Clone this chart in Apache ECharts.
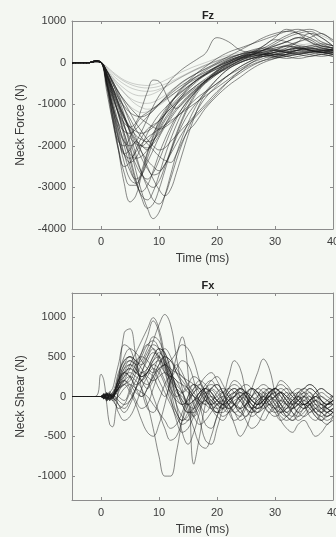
<!DOCTYPE html>
<html><head><meta charset="utf-8">
<script src="https://cdn.jsdelivr.net/npm/echarts@6/dist/echarts.min.js"></script>
<style>html,body{margin:0;padding:0;background:#f4f7f2}#c{width:336px;height:537px}</style>
</head><body><div id="c"></div>
<script>
// ---------- Fz panel (Neck Force, N) ----------
const fzTime = [-5,-2,-1,0,1,2,3,4,5,6,7,8,9,10,11,12,13,14,15,16,17,18,20,22,24,26,28,30,32,34,36,38,40];
const fzA1 = [0,0,40,20,-500,-1300,-2100,-2900,-3350,-3200,-2700,-2200,-1800,-1500,-1250,-1050,-900,-750,-600,-480,-380,-280,-100,50,150,200,250,300,250,300,350,300,250];
const fzA2 = [0,0,40,10,-600,-1400,-2100,-2500,-2400,-2100,-1800,-1600,-1500,-1400,-1250,-1100,-950,-800,-650,-520,-400,-300,-120,20,120,180,220,200,180,220,260,280,300];
const fzA3 = [0,0,30,0,-450,-1100,-1700,-2200,-2400,-2300,-2000,-1700,-1450,-1250,-1100,-950,-820,-700,-580,-470,-370,-280,-100,50,150,200,150,120,150,200,250,300,320];
const fzA4 = [0,0,30,10,-400,-1000,-1600,-2200,-2600,-2800,-2700,-2400,-2100,-1800,-1550,-1350,-1150,-980,-830,-700,-580,-460,-250,-80,50,150,200,250,300,350,300,250,200];
const fzA5 = [0,0,30,0,-350,-900,-1450,-2000,-2500,-2900,-3100,-2950,-2600,-2200,-1850,-1550,-1300,-1100,-920,-760,-620,-500,-280,-100,50,130,200,150,200,300,400,350,300];
const fzA6 = [0,0,40,20,-500,-1200,-1800,-2200,-2100,-1900,-2000,-2100,-1900,-1600,-1350,-1150,-1000,-870,-750,-640,-540,-440,-250,-100,20,100,150,180,200,250,200,150,200];
const fzA7 = [0,0,40,10,-700,-1400,-1900,-2000,-1800,-1500,-1300,-1200,-1100,-1000,-900,-800,-700,-600,-500,-420,-350,-280,-150,-20,80,150,200,250,350,500,700,600,400];
const fzB1 = [0,0,30,0,-250,-600,-1000,-1500,-2000,-2600,-3100,-3500,-3750,-3600,-3200,-2700,-2200,-1800,-1450,-1150,-900,-700,-400,-150,0,100,150,200,150,100,150,200,150];
const fzB2 = [0,0,30,0,-300,-750,-1200,-1700,-2250,-2800,-3250,-3500,-3400,-3050,-2600,-2150,-1750,-1400,-1100,-850,-650,-480,-220,-30,100,180,300,450,600,700,750,600,400];
const fzB3 = [0,0,20,0,-200,-500,-850,-1250,-1700,-2200,-2650,-3000,-3300,-3400,-3200,-2800,-2350,-1950,-1600,-1300,-1050,-850,-550,-300,-100,50,150,200,250,200,150,200,250];
const fzB4 = [0,0,30,0,-300,-700,-1100,-1500,-1900,-2300,-2650,-2900,-3000,-2850,-2500,-2100,-1700,-1350,-1050,-800,-600,-440,-180,20,150,250,350,500,650,750,800,700,550];
const fzB5 = [0,0,30,10,-350,-800,-1250,-1700,-2100,-2450,-2700,-2800,-2650,-2350,-2000,-1650,-1350,-1100,-900,-740,-600,-480,-280,-100,50,180,300,400,500,600,500,400,350];
const fzB6 = [0,0,20,0,-200,-450,-750,-1100,-1450,-1800,-2150,-2500,-2800,-3050,-3200,-3050,-2650,-2200,-1750,-1350,-1000,-750,-400,-150,0,100,200,300,400,500,600,700,500];
const fzB7 = [0,0,30,0,-300,-650,-1000,-1350,-1650,-1900,-2150,-2350,-2500,-2600,-2450,-2150,-1800,-1500,-1250,-1050,-880,-730,-500,-300,-150,0,100,200,300,400,350,300,250];
const fzB8 = [0,0,20,0,-200,-500,-800,-1100,-1350,-1600,-1800,-1950,-2100,-2250,-2350,-2400,-2200,-1900,-1650,-1500,-1300,-1100,-800,-550,-350,-150,0,100,200,300,250,200,150];
const fzC1 = [0,0,30,10,-300,-700,-1050,-1350,-1550,-1650,-1700,-1650,-1550,-1400,-1250,-1100,-950,-820,-700,-600,-500,-420,-270,-130,0,100,180,250,300,350,300,250,200];
const fzC2 = [0,0,30,0,-250,-600,-950,-1300,-1600,-1850,-2000,-2050,-1950,-1750,-1500,-1250,-1000,-800,-620,-480,-360,-260,-80,80,200,300,350,300,250,300,350,400,350];
const fzC3 = [0,0,30,10,-400,-850,-1200,-1450,-1550,-1450,-1100,-700,-420,-450,-700,-1000,-1100,-1000,-850,-700,-560,-440,-220,-50,80,200,400,600,800,700,500,350,300];
const fzC4 = [0,0,40,10,-450,-1000,-1500,-1900,-2200,-2300,-2250,-2100,-1900,-1650,-1400,-1200,-1000,-850,-720,-600,-490,-390,-200,-30,100,200,250,200,250,300,350,300,300];
const fzC5 = [0,0,30,0,-300,-650,-1000,-1300,-1550,-1750,-1850,-1900,-1850,-1700,-1500,-1300,-1100,-950,-800,-680,-560,-450,-250,-60,100,250,400,550,500,400,300,250,350];
const fzC6 = [0,0,20,0,-200,-450,-700,-950,-1200,-1450,-1650,-1850,-2000,-2100,-2050,-1900,-1750,-1600,-1450,-1300,-1150,-1000,-700,-450,-250,-80,50,150,250,350,400,450,400];
const fzC7 = [0,0,30,10,-300,-600,-850,-1050,-1200,-1280,-1300,-1250,-1150,-1000,-850,-700,-580,-470,-380,-300,-220,-150,0,150,300,450,600,700,750,700,600,450,350];
const fzE1 = [0,0,40,10,-500,-1100,-1600,-1900,-2000,-1900,-1650,-1350,-1050,-800,-600,-420,-280,-160,-60,30,120,220,600,500,300,250,300,400,500,600,550,400,350];
const fzF1 = [0,0,40,10,-450,-1100,-1800,-2400,-2800,-2900,-2700,-2300,-1900,-1550,-1250,-1000,-800,-640,-500,-380,-280,-190,-30,100,200,250,300,350,400,350,300,250,200];
const fzF2 = [0,0,30,0,-300,-750,-1250,-1800,-2350,-2850,-3200,-3300,-3100,-2700,-2250,-1850,-1500,-1200,-950,-750,-580,-440,-200,0,150,250,200,150,200,250,300,350,300];
const fzF3 = [0,0,40,10,-550,-1250,-1850,-2200,-2300,-2150,-1950,-1800,-1700,-1600,-1500,-1400,-1300,-1200,-1100,-1000,-900,-800,-600,-400,-200,-50,50,100,150,200,250,250,250];
const fzF4 = [0,0,40,10,-500,-1050,-1450,-1650,-1700,-1600,-1450,-1300,-1150,-1000,-870,-750,-640,-540,-450,-370,-300,-230,-100,20,120,200,250,300,250,200,250,300,300];
const fzF5 = [0,0,30,0,-250,-600,-950,-1300,-1650,-2000,-2300,-2550,-2700,-2650,-2450,-2200,-1950,-1700,-1500,-1350,-1200,-1050,-750,-450,-200,0,150,250,300,350,300,250,200];
const fzF8 = [0,0,30,0,-350,-800,-1200,-1550,-1800,-1950,-2000,-1900,-1700,-1450,-1200,-980,-780,-600,-450,-320,-200,-100,100,250,350,450,550,650,750,800,700,500,400];
const fzF9 = [0,0,40,20,-550,-1300,-2050,-2650,-2950,-2950,-2600,-2150,-1750,-1400,-1150,-950,-800,-680,-570,-470,-380,-300,-150,-20,100,150,200,150,100,150,200,250,250];
const fzF10 = [0,0,30,0,-200,-450,-700,-900,-1080,-1230,-1360,-1460,-1550,-1600,-1550,-1450,-1320,-1180,-1050,-920,-800,-700,-500,-300,-100,50,200,300,400,350,300,250,300];
const fzD1 = [0,0,30,10,-150,-300,-420,-520,-600,-650,-680,-690,-680,-640,-580,-500,-420,-340,-260,-190,-120,-60,40,130,200,250,300,350,400,450,350,300,250];
const fzD2 = [0,0,30,10,-200,-400,-580,-730,-850,-930,-970,-980,-950,-880,-790,-680,-570,-460,-370,-290,-220,-150,-20,100,200,280,350,420,500,600,700,650,500];
const fzD3 = [0,0,30,0,-100,-220,-330,-420,-480,-520,-540,-550,-530,-490,-430,-360,-290,-220,-160,-100,-50,0,100,180,240,280,300,320,300,280,260,250,250];
const fzD4 = [0,0,30,0,-180,-370,-550,-720,-880,-1000,-1080,-1120,-1100,-1030,-930,-820,-700,-590,-480,-390,-310,-240,-100,20,130,220,300,250,200,250,300,350,300];
const fzD5 = [0,0,30,10,-250,-500,-720,-900,-1050,-1150,-1200,-1180,-1100,-980,-850,-720,-600,-490,-390,-300,-230,-160,-40,60,150,220,280,350,420,500,550,500,400];
const fzD6 = [0,0,30,10,-180,-350,-500,-620,-720,-780,-800,-790,-750,-680,-600,-510,-420,-340,-270,-200,-140,-80,30,120,180,230,260,300,350,400,450,400,350];
const fzD7 = [0,0,30,0,-120,-250,-360,-450,-520,-570,-600,-610,-600,-570,-520,-460,-390,-320,-250,-180,-120,-60,50,140,200,250,280,300,320,300,280,300,280];
const fzDark = [fzA1,fzA2,fzA3,fzA4,fzA5,fzA6,fzA7,fzB1,fzB2,fzB3,fzB4,fzB5,fzB6,fzB7,fzB8,fzC1,fzC2,fzC3,fzC4,fzC5,fzC6,fzC7,fzE1,fzF1,fzF2,fzF3,fzF4,fzF5,fzF8,fzF9,fzF10];
const fzLight = [fzD1,fzD2,fzD3,fzD4,fzD5,fzD6,fzD7];

// ---------- Fx panel (Neck Shear, N) ----------
const fxTime = [-5,-1,0,0.5,1,1.5,2,2.5,3,4,5,6,7,8,9,10,11,12,13,14,15,16,17,18,19,20,21,22,23,24,25,26,27,28,29,30,31,32,33,34,35,36,37,38,39,40];
const fx1 = [0,0,280,200,-100,-350,-380,-200,100,800,850,500,100,-150,-200,-50,150,250,200,50,-100,-150,-50,50,80,0,-100,-150,-100,0,50,0,-80,-150,-100,0,50,0,-100,-200,-150,-50,0,-100,-200,-150];
const fx2 = [0,0,0,20,-30,20,0,50,100,250,400,550,700,850,990,850,500,100,-200,-300,-200,-50,50,100,50,-50,-100,-50,0,50,0,-100,-150,-100,0,100,50,-50,-150,-100,0,50,-50,-150,-200,-150];
const fx3 = [0,0,0,-30,50,-20,30,0,-50,-100,-50,100,300,500,700,900,1030,900,500,100,-150,-250,-150,0,100,150,50,-100,-200,-150,0,100,50,-100,-200,-150,-50,50,0,-100,-150,-100,0,-50,-100,-50];
const fx4 = [0,0,0,30,-50,30,0,50,100,200,250,200,100,-100,-400,-750,-1000,-1000,-700,-300,0,150,100,-50,-100,-50,50,100,50,-50,-150,-200,-100,0,50,0,-100,-200,-250,-150,-50,0,-100,-200,-250,-200];
const fx5 = [0,0,0,-20,40,-20,0,100,200,300,250,150,200,300,250,100,0,200,500,750,300,-850,-500,-100,100,150,50,-50,-100,-50,0,-50,-100,-50,50,100,50,-50,-100,-50,0,-100,-200,-150,-100,-50];
const fx6 = [0,0,0,10,-20,10,0,50,100,300,400,350,200,100,200,350,400,300,100,-100,-200,-150,0,150,200,100,50,250,450,350,50,-150,-100,50,100,50,-100,-200,-100,50,100,50,-50,-100,-50,0];
const fx7 = [0,0,0,-10,30,0,50,100,150,200,150,50,0,100,300,500,600,500,300,200,100,0,-100,-200,-100,50,100,50,-100,-200,-100,100,300,470,350,50,-200,-250,-150,0,100,150,100,-50,-150,-200];
const fx8 = [0,0,0,20,-40,10,0,-50,-100,-150,-50,100,200,300,400,450,400,250,100,-50,-200,-400,-600,-650,-500,-250,-100,-150,-350,-500,-400,-200,0,100,50,-100,-200,-150,-50,0,-100,-250,-300,-200,-100,-50];
const fx9 = [0,0,0,0,50,-30,20,100,200,350,450,400,300,350,500,600,550,350,100,-100,-200,-200,-100,-50,-150,-250,-300,-200,-100,-150,-300,-400,-350,-200,-100,-150,-300,-400,-450,-350,-300,-400,-500,-450,-350,-300];
const fx10 = [0,0,0,30,0,-50,0,100,250,450,500,400,450,600,750,700,500,300,200,150,100,0,-100,-50,0,-50,-100,-150,-100,0,50,0,-50,-100,-50,0,50,0,-50,-100,-150,-100,-50,-100,-150,-100];
const fx11 = [0,0,0,-20,30,-50,-20,-100,-150,-100,50,200,300,200,0,-200,-400,-550,-500,-300,-100,50,100,50,-50,-100,-50,50,100,50,-50,-150,-200,-150,-50,0,50,0,-100,-200,-250,-200,-150,-200,-250,-200];
const fx12 = [0,0,0,10,-10,30,0,50,150,350,400,300,250,350,500,600,550,300,-100,-450,-600,-450,-200,0,100,50,-50,-100,-50,0,50,100,50,-50,-100,-50,50,100,50,-50,-100,-50,0,50,0,-50];
const fx13 = [0,0,0,30,-50,50,100,250,400,650,600,400,250,300,450,500,400,200,0,-100,-50,100,200,150,50,-50,-100,-50,0,50,0,-100,-150,-100,0,50,100,50,-50,-100,-100,-50,0,-50,-100,-50];
const fx14 = [0,0,0,-10,-30,30,-50,-100,-200,-300,-250,-100,100,250,350,300,150,-50,-200,-300,-250,-100,50,100,0,-100,-150,-100,0,100,50,-50,-100,-50,0,100,150,100,0,-50,-100,-50,50,100,50,0];
const fx15 = [0,0,0,20,0,-20,20,50,150,300,250,100,0,100,250,350,400,450,550,650,600,450,200,0,-150,-200,-100,0,50,0,-100,-150,-100,0,100,50,-50,-100,-50,50,100,150,100,0,-50,-100];
const fx16 = [0,0,0,-20,20,-10,0,50,100,150,50,-100,-300,-450,-500,-350,-100,200,400,300,100,-100,-300,-550,-600,-400,-150,50,100,0,-150,-250,-200,-100,0,-50,-150,-250,-300,-250,-150,-100,-200,-300,-350,-250];
const fx17 = [0,0,0,0,20,0,30,100,200,300,350,300,400,550,650,600,450,350,300,250,150,50,-50,-100,-50,0,50,0,-100,-150,-100,0,100,150,100,0,-100,-150,-100,0,50,100,50,-50,-100,-100];
const fx18 = [0,0,0,-30,40,0,-20,50,150,250,300,250,200,300,450,550,450,250,50,0,-100,-50,0,100,200,250,150,0,-100,-200,-250,-150,-50,0,-100,-200,-300,-250,-150,-50,0,-50,-150,-200,-150,-100];
const fx19 = [0,0,0,10,-20,10,0,80,200,400,500,450,350,250,200,250,300,250,150,50,-100,-250,-350,-300,-200,-100,-50,-100,-200,-300,-250,-150,-50,0,-50,-150,-250,-300,-250,-150,-100,-150,-250,-300,-250,-200];
const fx20 = [0,0,0,-10,10,20,50,150,300,450,500,450,400,500,600,500,350,200,100,50,100,150,100,0,-100,-150,-100,0,50,100,50,-50,-100,-50,50,100,200,150,50,-50,-100,-50,50,100,50,0];
const fx21 = [0,0,0,20,-60,40,-20,100,250,500,600,550,450,350,300,400,500,450,300,150,50,0,-50,-100,-150,-100,0,100,150,100,0,-100,-150,-100,0,50,0,-100,-200,-250,-200,-100,-50,-100,-150,-200];
const fx22 = [0,0,0,-20,10,60,0,-50,50,200,350,450,500,450,350,200,50,-100,-250,-350,-300,-150,0,100,150,100,-50,-200,-300,-250,-100,0,50,0,-100,-150,-100,0,50,0,-100,-200,-150,-100,-150,-200];
const fx23 = [0,0,0,40,-20,-40,30,50,0,-50,100,300,550,750,950,800,400,0,-300,-450,-400,-250,-100,0,-50,-150,-250,-200,-100,0,-50,-150,-250,-300,-200,-100,-50,-100,-200,-300,-250,-150,-100,-150,-200,-250];
const fx24 = [0,0,0,-10,30,-30,10,60,100,150,250,400,550,650,600,450,300,250,350,450,400,200,-100,-350,-400,-250,-50,100,200,150,0,-150,-200,-100,50,100,50,-50,-100,-50,50,0,-100,-150,-100,-50];
const fx25 = [0,0,0,10,-10,-20,-50,-30,0,100,150,100,50,0,-100,-200,-300,-400,-350,-200,0,100,150,50,-100,-200,-150,-50,0,-50,-150,-200,-150,-50,0,-50,-150,-250,-300,-200,-100,-150,-250,-300,-200,-150];
const fx26 = [0,0,0,0,-20,20,-30,50,150,300,350,300,250,300,400,350,200,50,-50,-100,-50,50,150,250,300,200,50,-100,-200,-250,-150,0,100,50,-50,-150,-200,-150,-50,0,-50,-100,-50,0,-50,-100];
const fx27 = [0,0,0,30,-30,0,20,-20,-100,-200,-100,100,300,450,550,500,300,100,0,50,150,250,200,50,-100,-200,-200,-100,0,100,150,100,0,-100,-200,-250,-200,-100,0,50,0,-100,-200,-250,-200,-150];
const fx28 = [0,0,0,-20,40,-40,0,30,80,150,200,350,500,650,700,600,400,150,-100,-250,-300,-200,-50,50,0,-100,-150,-50,50,100,50,-50,-100,-50,50,100,0,-100,-150,-100,0,100,50,-50,-100,-50];
const fx29 = [0,0,0,10,20,-30,-10,30,100,200,100,-50,-150,-100,100,300,400,300,100,-50,-100,-50,50,100,50,-50,-150,-200,-150,-50,50,100,50,-50,-150,-200,-150,-50,50,100,50,-50,-150,-200,-100,0];
const fx30 = [0,0,0,-30,20,40,-20,60,200,400,450,350,200,150,250,400,500,450,350,250,200,150,50,-50,-100,-50,0,-50,-100,-150,-100,-50,0,50,0,-100,-150,-200,-150,-100,-50,-100,-200,-250,-300,-250];
const fxCurves = [fx1,fx2,fx3,fx4,fx5,fx6,fx7,fx8,fx9,fx10,fx11,fx12,fx13,fx14,fx15,fx16,fx17,fx18,fx19,fx20,fx21,fx22,fx23,fx24,fx25,fx26,fx27,fx28,fx29,fx30];

// ---------- axes ticks ----------
const timeTicks = [0,10,20,30,40];
const fzTicks = [-4000,-3000,-2000,-1000,0,1000];
const fxTicks = [-1000,-500,0,500,1000];

const FONT = "'Liberation Sans', Arial, sans-serif";
const TXT = '#3a3a3a';
const LINE = '#8c8c8c';

function pairs(t, v){ return t.map((x,i)=>[x, v[i]]); }
const plain = v => String(v);

function xAx(grid, pos, show){
  return {type:'value', gridIndex:grid, position:pos, min:-5, max:40,
    name: show ? 'Time (ms)' : '', nameLocation:'middle', nameGap:24,
    nameTextStyle:{color:TXT, fontFamily:FONT, fontSize:12},
    axisLine:{show:true, onZero:false, lineStyle:{color:LINE, width:1}},
    axisTick:{show:true, inside:true, length:3, customValues:timeTicks, lineStyle:{color:LINE}},
    axisLabel:{show:show, customValues:timeTicks, formatter:plain, margin:7, color:TXT, fontFamily:FONT, fontSize:11},
    splitLine:{show:false}};
}
function yAx(grid, pos, min, max, ticks, name){
  return {type:'value', gridIndex:grid, position:pos, min:min, max:max,
    name: name || '', nameLocation:'middle', nameGap:35, nameRotate:90,
    nameTextStyle:{color:TXT, fontFamily:FONT, fontSize:12},
    axisLine:{show:true, onZero:false, lineStyle:{color:LINE, width:1}},
    axisTick:{show:true, inside:true, length:3, customValues:ticks, lineStyle:{color:LINE}},
    axisLabel:{show:!!name, customValues:ticks, formatter:plain, margin:6, color:TXT, fontFamily:FONT, fontSize:11},
    splitLine:{show:false}};
}

const series = [];
fzLight.forEach(v=>series.push({type:'line', xAxisIndex:0, yAxisIndex:0, data:pairs(fzTime,v),
  showSymbol:false, smooth:0.4, lineStyle:{width:1, color:'rgba(70,70,70,0.25)'}, silent:true}));
fzDark.forEach(v=>series.push({type:'line', xAxisIndex:0, yAxisIndex:0, data:pairs(fzTime,v),
  showSymbol:false, smooth:0.4, lineStyle:{width:1, color:'rgba(25,25,25,0.5)'}, silent:true}));
fxCurves.forEach(v=>series.push({type:'line', xAxisIndex:2, yAxisIndex:2, data:pairs(fxTime,v),
  showSymbol:false, smooth:0.4, lineStyle:{width:1, color:'rgba(25,25,25,0.5)'}, silent:true}));

const chart = echarts.init(document.getElementById('c'), null, {renderer:'canvas'});
chart.setOption({
  backgroundColor:'#f4f7f2',
  animation:false,
  title:[
    {text:'Fz', left:203, top:5, textAlign:'center', textStyle:{fontFamily:FONT, fontSize:11, fontWeight:'bold', color:'#222'}},
    {text:'Fx', left:203, top:275, textAlign:'center', textStyle:{fontFamily:FONT, fontSize:11, fontWeight:'bold', color:'#222'}}
  ],
  grid:[
    {left:72, top:21, width:261, height:208, show:true, backgroundColor:'#f6f9f4', borderWidth:0, outerBoundsMode:'none', containLabel:false},
    {left:72, top:293, width:261, height:207, show:true, backgroundColor:'#f6f9f4', borderWidth:0, outerBoundsMode:'none', containLabel:false}
  ],
  xAxis:[xAx(0,'bottom',true), xAx(0,'top',false), xAx(1,'bottom',true), xAx(1,'top',false)],
  yAxis:[yAx(0,'left',-4000,1000,fzTicks,'Neck Force (N)'), yAx(0,'right',-4000,1000,fzTicks,''),
         yAx(1,'left',-1300,1300,fxTicks,'Neck Shear (N)'), yAx(1,'right',-1300,1300,fxTicks,'')],
  series: series
});
</script>
</body></html>
